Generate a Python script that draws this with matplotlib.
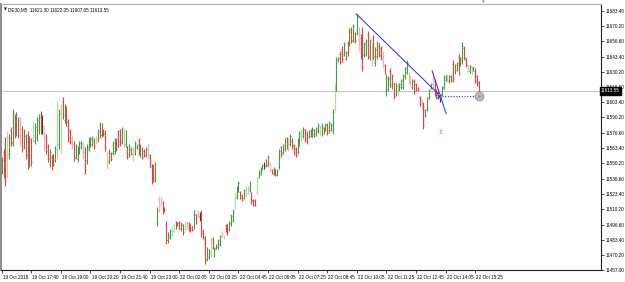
import matplotlib
matplotlib.use("Agg")
import matplotlib.pyplot as plt
import matplotlib.transforms as mtransforms
import numpy as np

# ------------------------------------------------------------------ data (DE30 M5 bars)
symbol = "DE30,M5"
last_ohlc = ["11621.30", "11622.05", "11607.05", "11613.55"]
last_price = 11613.55

bar_high = [
    11556, 11563, 11573, 11578, 11576, 11582, 11598, 11593, 11595, 11591,
    11591, 11583, 11580, 11576, 11578, 11574, 11572, 11587, 11585, 11591,
    11593, 11596, 11592, 11583, 11576, 11567, 11563, 11558, 11558, 11565,
    11605, 11598, 11602, 11608, 11602, 11600, 11589, 11580, 11574, 11570,
    11567, 11565, 11570, 11570, 11569, 11564, 11567, 11573, 11573, 11574,
    11572, 11574, 11580, 11586, 11585, 11580, 11579, 11561, 11563, 11560,
    11570, 11572, 11572, 11579, 11580, 11582, 11580, 11579, 11565, 11567,
    11564, 11565, 11570, 11567, 11572, 11567, 11564, 11563, 11564, 11567,
    11558, 11550, 11550, 11551, 11512, 11522, 11521, 11517, 11512, 11500,
    11490, 11493, 11495, 11497, 11500, 11499, 11500, 11499, 11497, 11500,
    11500, 11499, 11497, 11495, 11509, 11506, 11509, 11508, 11509, 11493,
    11487, 11477, 11475, 11486, 11486, 11477, 11480, 11484, 11488, 11491,
    11488, 11497, 11497, 11500, 11506, 11510, 11525, 11530, 11535, 11526,
    11523, 11528, 11530, 11530, 11535, 11525, 11519, 11519, 11538, 11544,
    11547, 11550, 11551, 11554, 11557, 11551, 11545, 11547, 11545, 11545,
    11563, 11565, 11567, 11572, 11573, 11572, 11576, 11572, 11567, 11564,
    11572, 11578, 11580, 11582, 11580, 11578, 11579, 11580, 11582, 11580,
    11582, 11585, 11584, 11585, 11582, 11585, 11585, 11587, 11585, 11598,
    11620, 11643, 11643, 11648, 11653, 11656, 11648, 11657, 11668, 11669,
    11672, 11665, 11681, 11669, 11663, 11669, 11656, 11659, 11666, 11659,
    11655, 11662, 11652, 11657, 11655, 11653, 11648, 11637, 11628, 11626,
    11633, 11628, 11621, 11620, 11620, 11620, 11624, 11628, 11634, 11640,
    11630, 11627, 11624, 11624, 11620, 11617, 11609, 11606, 11604, 11598,
    11608, 11615, 11620, 11630, 11624, 11615, 11613, 11611, 11618, 11627,
    11627, 11628, 11627, 11627, 11640, 11637, 11639, 11646, 11643, 11656,
    11653, 11643, 11637, 11636, 11635, 11634, 11633, 11627, 11622.05]

bar_low = [
    11541, 11537, 11530, 11537, 11554, 11565, 11565, 11572, 11574, 11572,
    11565, 11560, 11563, 11554, 11545, 11547, 11548, 11569, 11567, 11570,
    11576, 11576, 11576, 11561, 11558, 11551, 11547, 11544, 11548, 11551,
    11554, 11563, 11558, 11589, 11585, 11583, 11569, 11567, 11563, 11552,
    11554, 11551, 11558, 11563, 11554, 11541, 11550, 11561, 11564, 11565,
    11563, 11567, 11569, 11572, 11573, 11574, 11561, 11545, 11550, 11552,
    11557, 11558, 11561, 11564, 11565, 11567, 11564, 11564, 11554, 11556,
    11557, 11552, 11557, 11563, 11557, 11556, 11554, 11556, 11556, 11554,
    11547, 11532, 11534, 11534, 11495, 11508, 11513, 11506, 11508, 11480,
    11481, 11484, 11487, 11490, 11493, 11495, 11493, 11491, 11488, 11491,
    11493, 11491, 11490, 11491, 11493, 11497, 11502, 11500, 11486, 11484,
    11462, 11465, 11467, 11468, 11475, 11468, 11475, 11475, 11478, 11486,
    11484, 11490, 11488, 11491, 11495, 11499, 11510, 11519, 11525, 11519,
    11517, 11519, 11521, 11523, 11525, 11515, 11513, 11513, 11523, 11537,
    11540, 11544, 11545, 11547, 11548, 11543, 11541, 11540, 11539, 11539,
    11545, 11556, 11558, 11561, 11563, 11561, 11565, 11563, 11557, 11556,
    11558, 11565, 11570, 11572, 11569, 11567, 11572, 11573, 11573, 11573,
    11574, 11577, 11575, 11574, 11576, 11578, 11575, 11577, 11578, 11576,
    11596, 11613, 11639, 11637, 11639, 11644, 11640, 11644, 11653, 11655,
    11656, 11655, 11662, 11648, 11641, 11631, 11643, 11644, 11641, 11640,
    11635, 11641, 11635, 11641, 11643, 11640, 11633, 11628, 11609, 11613,
    11617, 11615, 11606, 11609, 11609, 11613, 11615, 11615, 11624, 11628,
    11620, 11618, 11615, 11611, 11613, 11613, 11600, 11598, 11580, 11591,
    11596, 11606, 11615, 11615, 11609, 11606, 11606, 11604, 11609, 11615,
    11622, 11621, 11620, 11621, 11621, 11628, 11631, 11627, 11635, 11637,
    11640, 11634, 11630, 11629, 11628, 11631, 11620, 11618, 11607.05]

bar_open = [
    11544, 11560, 11566, 11540, 11558, 11579, 11569, 11591, 11577, 11589,
    11588, 11580, 11565, 11574, 11575, 11550, 11570, 11571, 11570, 11573,
    11579, 11593, 11583, 11580, 11573, 11564, 11550, 11556, 11556, 11553,
    11558, 11567, 11563, 11605, 11588, 11597, 11586, 11578, 11572, 11567,
    11556, 11554, 11561, 11564, 11567, 11560, 11553, 11563, 11566, 11567,
    11570, 11573, 11571, 11584, 11575, 11579, 11577, 11558, 11552, 11559,
    11559, 11561, 11570, 11577, 11578, 11570, 11567, 11567, 11563, 11558,
    11563, 11554, 11559, 11564, 11570, 11558, 11563, 11561, 11557, 11565,
    11557, 11547, 11548, 11536, 11498, 11520, 11520, 11516, 11511, 11497,
    11483, 11486, 11488, 11491, 11499, 11496, 11499, 11493, 11496, 11493,
    11495, 11498, 11496, 11494, 11495, 11505, 11507, 11504, 11506, 11491,
    11484, 11467, 11468, 11471, 11484, 11470, 11476, 11477, 11480, 11490,
    11485, 11496, 11496, 11493, 11497, 11501, 11512, 11521, 11527, 11525,
    11522, 11520, 11522, 11524, 11527, 11524, 11518, 11518, 11525, 11538,
    11541, 11545, 11548, 11553, 11549, 11550, 11544, 11541, 11544, 11540,
    11547, 11564, 11560, 11563, 11572, 11563, 11567, 11570, 11566, 11563,
    11560, 11567, 11572, 11574, 11579, 11576, 11573, 11574, 11575, 11579,
    11576, 11578, 11577, 11576, 11581, 11579, 11584, 11579, 11579, 11578,
    11598, 11616, 11640, 11646, 11650, 11646, 11641, 11655, 11655, 11667,
    11658, 11664, 11664, 11667, 11660, 11665, 11645, 11646, 11663, 11643,
    11652, 11659, 11638, 11644, 11653, 11651, 11646, 11636, 11612, 11615,
    11631, 11617, 11619, 11611, 11618, 11614, 11617, 11617, 11626, 11630,
    11628, 11625, 11617, 11622, 11619, 11616, 11608, 11605, 11601, 11597,
    11598, 11608, 11616, 11627, 11622, 11614, 11612, 11607, 11610, 11617,
    11623, 11627, 11622, 11626, 11637, 11630, 11632, 11643, 11637, 11640,
    11651, 11642, 11631, 11631, 11634, 11632, 11631, 11626, 11621.30]

bar_close = [
    11553, 11540, 11536, 11572, 11572, 11568, 11594, 11576, 11592, 11575,
    11569, 11563, 11578, 11557, 11549, 11571, 11551, 11585, 11582, 11588,
    11591, 11579, 11583, 11564, 11561, 11554, 11560, 11546, 11550, 11563,
    11600, 11594, 11598, 11592, 11599, 11586, 11572, 11569, 11565, 11555,
    11565, 11563, 11568, 11568, 11557, 11545, 11564, 11571, 11571, 11572,
    11565, 11569, 11578, 11575, 11583, 11576, 11564, 11548, 11561, 11554,
    11568, 11570, 11563, 11567, 11568, 11580, 11578, 11577, 11556, 11565,
    11558, 11563, 11568, 11566, 11559, 11565, 11556, 11557, 11563, 11556,
    11549, 11535, 11537, 11549, 11509, 11510, 11515, 11508, 11509, 11483,
    11488, 11491, 11494, 11496, 11494, 11498, 11494, 11497, 11490, 11498,
    11499, 11493, 11492, 11492, 11506, 11499, 11503, 11504, 11489, 11486,
    11466, 11475, 11474, 11483, 11477, 11475, 11479, 11483, 11487, 11487,
    11488, 11491, 11490, 11498, 11504, 11508, 11523, 11528, 11533, 11520,
    11518, 11527, 11529, 11529, 11533, 11517, 11514, 11514, 11536, 11543,
    11546, 11549, 11548, 11548, 11556, 11544, 11542, 11546, 11540, 11544,
    11561, 11558, 11566, 11570, 11565, 11570, 11574, 11565, 11559, 11557,
    11570, 11576, 11578, 11580, 11571, 11569, 11578, 11579, 11580, 11574,
    11580, 11583, 11582, 11583, 11577, 11584, 11577, 11585, 11584, 11595,
    11617, 11640, 11642, 11639, 11641, 11654, 11647, 11646, 11665, 11657,
    11670, 11657, 11678, 11651, 11644, 11634, 11654, 11657, 11644, 11656,
    11638, 11644, 11649, 11655, 11645, 11642, 11635, 11630, 11625, 11624,
    11619, 11626, 11609, 11618, 11611, 11619, 11623, 11626, 11633, 11638,
    11622, 11620, 11622, 11613, 11614, 11614, 11602, 11600, 11584, 11592,
    11606, 11614, 11619, 11618, 11612, 11608, 11607, 11607, 11616, 11625,
    11626, 11623, 11626, 11622, 11624, 11636, 11638, 11630, 11642, 11653,
    11642, 11636, 11636, 11635, 11630, 11634, 11622, 11620, 11613.55]

# bars that show up washed out in the screenshot
faded = [3, 10, 17, 23, 30, 32, 38, 44, 51, 57, 66, 71, 79, 85, 86, 92, 93, 99, 100,
         106, 113, 119, 120, 126, 132, 133, 138, 145, 155, 162, 172, 180, 193, 200,
         206, 214, 220, 221, 227, 233, 241, 252, 254]

time_labels = ["19 Oct 2018", "19 Oct 17:40", "19 Oct 19:00", "19 Oct 20:20", "19 Oct 21:40",
               "19 Oct 23:00", "22 Oct 02:05", "22 Oct 03:25", "22 Oct 04:45", "22 Oct 06:05",
               "22 Oct 07:25", "22 Oct 08:45", "22 Oct 10:05", "22 Oct 11:25", "22 Oct 12:45",
               "22 Oct 14:05", "22 Oct 15:25"]
price_labels = ["11683.40", "11670.20", "11656.60", "11643.40", "11630.20", "11616.60",
                "11603.40", "11590.20", "11576.60", "11563.40", "11550.20", "11536.60",
                "11523.40", "11510.20", "11496.60", "11483.40", "11470.20", "11457.00"]

# drawn objects (bar index, price)
trend_long_x, trend_long_y = [191.6, 237.1], [11680.8, 11609.1]
trend_short_x, trend_short_y = [232.7, 240.3], [11631.0, 11593.4]
level_x, level_y = [236.5, 258.1], 11609.1
arrow_x, arrow_y = 237.4, 11577.9

# ------------------------------------------------------------------ figure
FONT = ["Liberation Sans", "DejaVu Sans"]
FS = 3.3
W, H = 625, 282
fig = plt.figure(figsize=(W / 100, H / 100), dpi=100)
ax = fig.add_axes([1.5 / W, 12 / H, 599.5 / W, 266 / H])

x = np.arange(len(bar_high))
o, c = np.array(bar_open), np.array(bar_close)
cols = []
for i in x:
    fade = i in faded
    if c[i] > o[i]:
        cols.append("#acd8ac" if fade else "#3f9d3f")
    elif c[i] < o[i]:
        cols.append("#ffacac" if fade else "#f43a3a")
    else:
        cols.append("#3a3a3a")

ax.axhline(last_price, color="#c8c8c8", lw=0.8, zorder=1)
ax.vlines(x, bar_low, bar_high, colors=cols, lw=0.8, zorder=2)
ax.hlines(o, x - 0.45, x, colors=cols, lw=0.6, zorder=2)
ax.hlines(c, x, x + 0.45, colors=cols, lw=0.6, zorder=2)

# trend lines / level
blue = "#2626ff"
ax.plot(trend_long_x, trend_long_y, color=blue, lw=0.7, zorder=3)
ax.plot(trend_short_x, trend_short_y, color=blue, lw=0.7, zorder=3)
ax.plot(level_x, [level_y, level_y], color=blue, lw=0.8, ls=(0, (1, 1.5)), zorder=3)
ax.plot(level_x[0], level_y, "o", ms=4, mfc="#c4c4c4", mec="none", alpha=0.8, zorder=3)
ax.plot(level_x[0], level_y, "x", ms=3.5, mew=0.8, color=blue, zorder=4)
ax.plot(level_x[1], level_y, "o", ms=6.5, mfc="#b9b9b9", mec="#9c9c9c", mew=0.6, zorder=4)
ax.plot(level_x[1], level_y, "o", ms=1.6, mfc="#e8731e", mec="none", zorder=5)
ax.text(arrow_x, arrow_y, "\u21e7", color="#ff5a5a", fontsize=5, ha="center", va="center",
        family="DejaVu Sans")

ax.set_xlim(-0.1, 324.0)
ax.set_ylim(11457.0, 11689.3)

# axes / ticks
ax.yaxis.tick_right()
ax.set_yticks([float(p) for p in price_labels])
ax.set_yticklabels(price_labels, family=FONT, fontsize=FS)
ax.set_xticks(range(0, 16 * len(time_labels), 16))
ax.set_xticklabels(time_labels, family=FONT, fontsize=FS, ha="left")
ax.tick_params(axis="y", length=2, width=0.5, pad=1.2, colors="black")
ax.tick_params(axis="x", length=2, width=0.5, pad=1.5, colors="black")
shift = mtransforms.ScaledTranslation(1.2 / 100, 0, fig.dpi_scale_trans)
for lab in ax.get_xticklabels():
    lab.set_transform(lab.get_transform() + shift)

for s in ("right", "bottom"):
    ax.spines[s].set_color("#202020"); ax.spines[s].set_linewidth(0.8)
ax.spines["left"].set_color("#8c8c8c"); ax.spines["left"].set_linewidth(1.4)
ax.spines["top"].set_color("#b0b0b0"); ax.spines["top"].set_linewidth(0.8)

# current price box
ax.text(1.0, last_price, f"{last_price:.2f}", transform=ax.get_yaxis_transform(),
        ha="left", va="center", fontsize=FS, family=FONT, color="white", zorder=6,
        bbox=dict(boxstyle="square,pad=0.3", fc="black", ec="black"), clip_on=False)

# header
fig.text(4.0 / W, 1 - 9.5 / H, "\u25bc", fontsize=2.6, color="black", va="center")
fig.text(8.5 / W, 1 - 9.5 / H, symbol + "  " + " ".join(last_ohlc), fontsize=FS,
         family=FONT, va="center")
fig.text(483 / W, 1 - 2.5 / H, "\u25bc", fontsize=2.6, color="#909090", ha="center", va="center")

fig.savefig("out.png", dpi=100)
